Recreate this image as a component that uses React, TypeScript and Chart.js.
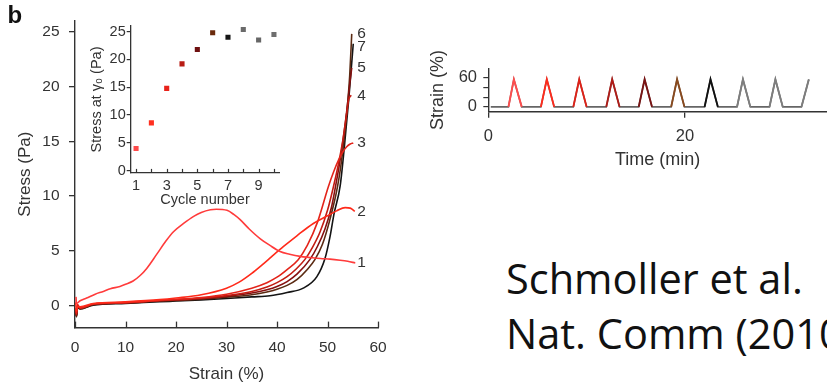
import React, { useEffect, useRef } from 'react';
import { Chart, registerables } from 'chart.js';

Chart.register(...registerables);

const FONT = "'Liberation Sans', Arial, Helvetica, sans-serif";
const INK = '#333333';

// ---------- Main stress–strain chart ----------
const mainXTicks = [0, 10, 20, 30, 40, 50, 60];
const mainYTicks = [0, 5, 10, 15, 20, 25];
const curveNames = ['1', '2', '3', '4', '5', '6', '7'];
const curveColors = ['#ff3b3b', '#ff2a1a', '#e3241a', '#c21c12', '#861010', '#5a2a12', '#141414'];

const curve1X = [0.2, 0.3, 1.0, 2.3, 4, 5.6, 7, 8.9, 10, 11.5, 12.9, 14.2, 16.2, 18, 19.5, 21.5, 23.5, 25, 26.8, 28, 30.1, 31.5, 32.7, 34.5, 36.7, 38.6, 40.6, 42.5, 44.6, 46.5, 48.6, 50.5, 52.5, 54, 55.5];
const curve1Y = [0.8, 0.2, 0.45, 0.7, 1.05, 1.3, 1.55, 1.75, 1.95, 2.25, 2.75, 3.4, 4.7, 5.9, 6.75, 7.5, 8.15, 8.5, 8.75, 8.8, 8.7, 8.3, 7.85, 7.0, 6.1, 5.5, 4.95, 4.7, 4.5, 4.4, 4.3, 4.25, 4.15, 4.05, 3.9];

const curve2X = [0.15, 0.3, 0.5, 1, 3.6, 10, 16.8, 20, 25, 30, 32.5, 35, 37, 39, 41.3, 44, 47.2, 50, 51.8, 53.5, 54.5, 55.4];
const curve2Y = [0.3, -0.5, -0.1, -0.1, 0.2, 0.35, 0.55, 0.7, 1.0, 1.6, 2.15, 2.95, 3.7, 4.5, 5.4, 6.4, 7.5, 8.2, 8.65, 8.95, 8.9, 8.6];

const curve3X = [0.15, 0.3, 0.5, 1, 3.6, 10, 16.8, 20, 25, 30, 35, 38, 40, 42, 44.2, 46, 48, 50.2, 51.2, 52.2, 53, 53.8, 54.5, 55.1];
const curve3Y = [-0.2, -0.7, 0.1, -0.2, 0.15, 0.3, 0.5, 0.58, 0.75, 1.05, 1.6, 2.1, 2.6, 3.3, 4.2, 5.5, 7.6, 10.9, 12.2, 13.3, 14.0, 14.5, 14.75, 14.85];

const curve4X = [0.15, 0.3, 0.5, 1, 3.6, 10, 16.8, 20, 25, 30, 35, 38, 40, 42, 43.8, 45.5, 47, 48.5, 50, 51.2, 52.2, 53, 53.7, 54.2, 54.7];
const curve4Y = [-0.3, -0.8, 0.0, -0.2, 0.15, 0.28, 0.47, 0.54, 0.68, 0.92, 1.3, 1.7, 2.1, 2.65, 3.35, 4.2, 5.3, 6.7, 8.7, 10.9, 13.0, 15.0, 17.2, 18.8, 19.2];

const curve5X = [0.15, 0.3, 0.5, 1, 3.6, 10, 16.8, 20, 25, 30, 35, 38, 40, 42, 44, 46.5, 48, 49.5, 50.8, 51.6, 52.4, 53.2, 54, 54.5, 54.8];
const curve5Y = [-0.4, -0.9, 0.0, -0.25, 0.12, 0.26, 0.45, 0.52, 0.64, 0.85, 1.15, 1.45, 1.75, 2.2, 2.9, 4.2, 5.4, 7.0, 9.0, 10.9, 13.0, 15.5, 18.5, 20.6, 21.7];

const curve6X = [0.15, 0.3, 0.5, 1, 3.6, 10, 16.8, 20, 25, 30, 35, 38, 40, 42, 44, 46, 47.5, 49, 50.5, 52, 53, 53.8, 54.4, 54.8];
const curve6Y = [-0.4, -1.0, -0.1, -0.3, 0.1, 0.24, 0.42, 0.48, 0.6, 0.78, 1.0, 1.25, 1.5, 1.85, 2.4, 3.3, 4.2, 5.6, 7.9, 10.9, 14.0, 17.5, 21.0, 24.8];

const curve7X = [0.15, 0.3, 0.5, 1, 3.6, 10, 16.8, 20, 25, 30, 35, 38.6, 42, 45.2, 47.9, 49.5, 50.5, 51.3, 52.5, 53.3, 54.2, 55.1];
const curve7Y = [-0.5, -1.0, -0.2, -0.3, 0.05, 0.2, 0.36, 0.42, 0.52, 0.66, 0.8, 0.9, 1.2, 1.6, 2.65, 4.3, 6.3, 8.4, 10.9, 14.3, 18.8, 23.9];

const curveXs = [curve1X, curve2X, curve3X, curve4X, curve5X, curve6X, curve7X];
const curveYs = [curve1Y, curve2Y, curve3Y, curve4Y, curve5Y, curve6Y, curve7Y];

// ---------- Inset: stress at gamma0 vs cycle ----------
const cycleNumbers = [1, 2, 3, 4, 5, 6, 7, 8, 9, 10];
const stressAtGamma0 = [4.0, 8.6, 14.8, 19.2, 21.8, 24.8, 24.0, 25.4, 23.5, 24.5];
const cycleColors = ['#ff4a4a', '#ff3020', '#e8221a', '#b81c14', '#6e1010', '#6a2a0c', '#151515', '#6a6a6a', '#666666', '#6e6e6e'];
const insetXTicks = [1, 2, 3, 4, 5, 6, 7, 8, 9, 10];
const insetYTicks = [0, 5, 10, 15, 20, 25];

// ---------- Strain vs time protocol ----------
const baselineStart = 0.25;
const pulseStart = [2.05, 5.35, 8.65, 12.0, 15.3, 18.6, 22.0, 25.3, 28.6, 31.85];
const pulsePeak = [2.6, 5.95, 9.25, 12.6, 15.9, 19.2, 22.6, 25.9, 29.2, 32.6];
const pulseEnd = [3.4, 6.7, 10.0, 13.35, 16.65, 19.95, 23.35, 26.65, 29.95, null];
const pulseAmplitude = [57, 57, 57, 57, 57, 57, 57, 57, 57, 57];
const pulseColors = ['#ff4d4d', '#ff2b1c', '#e02218', '#b01c18', '#7a1414', '#8a4a1e', '#111111', '#7e7e7e', '#7e7e7e', '#7e7e7e'];
const strainXTicks = [0, 20];
const strainYTicks = [0, 20, 40, 60];
const strainYLabelled = [0, 60];

// ---------- plugins ----------
const inwardTicks = {
  id: 'inwardTicks',
  afterDraw(chart: any, _args: any, opts: any) {
    if (!opts || !opts.length) return;
    const s = chart.scales.x;
    const ctx = chart.ctx;
    const bottom = chart.chartArea.bottom;
    ctx.save();
    ctx.strokeStyle = opts.color || INK;
    ctx.lineWidth = opts.width || 1.2;
    s.ticks.forEach((t: any) => {
      const px = Math.round(s.getPixelForValue(t.value)) + 0.5;
      ctx.beginPath();
      ctx.moveTo(px, bottom);
      ctx.lineTo(px, bottom - opts.length);
      ctx.stroke();
    });
    ctx.restore();
  },
};

const curveLabels = {
  id: 'curveLabels',
  afterDatasetsDraw(chart: any, _args: any, opts: any) {
    if (!opts || opts.xValue === undefined) return;
    const ctx = chart.ctx;
    const xs = chart.scales.x;
    const ys = chart.scales.y;
    const items = chart.data.datasets.map((ds: any) => {
      const last = ds.data[ds.data.length - 1];
      return { text: ds.label, y: ys.getPixelForValue(last.y) };
    });
    items.sort((a: any, b: any) => a.y - b.y);
    for (let i = 1; i < items.length; i++) {
      if (items[i].y - items[i - 1].y < opts.minGap) items[i].y = items[i - 1].y + opts.minGap;
    }
    ctx.save();
    ctx.font = `${opts.size}px ${FONT}`;
    ctx.fillStyle = INK;
    ctx.textAlign = 'left';
    ctx.textBaseline = 'middle';
    const x = xs.getPixelForValue(opts.xValue);
    items.forEach((it: any) => ctx.fillText(it.text, x, it.y));
    ctx.restore();
  },
};

function setTicks(values: number[]) {
  return (s: any) => {
    s.ticks = values.map((v) => ({ value: v }));
  };
}

function useChart(ref: React.RefObject<HTMLCanvasElement>, makeConfig: () => any) {
  useEffect(() => {
    if (!ref.current) return;
    const chart = new Chart(ref.current, makeConfig());
    return () => chart.destroy();
  }, []);
}

function mainConfig() {
  return {
    type: 'line',
    data: {
      datasets: curveXs.map((xs, i) => ({
        label: curveNames[i],
        data: xs.map((x, j) => ({ x, y: curveYs[i][j] })),
        borderColor: curveColors[i],
        borderWidth: 1.6,
        pointRadius: 0,
        cubicInterpolationMode: 'monotone',
        fill: false,
      })),
    },
    plugins: [inwardTicks, curveLabels],
    options: {
      animation: false,
      responsive: false,
      maintainAspectRatio: false,
      events: [],
      layout: { padding: { left: 0, top: 20.7, right: 22, bottom: 0 } },
      plugins: {
        legend: { display: false },
        tooltip: { enabled: false },
        inwardTicks: { length: 6, color: INK, width: 1.3 },
        curveLabels: { xValue: 55.9, minGap: 13, size: 15.5 },
      },
      scales: {
        x: {
          type: 'linear',
          min: 0,
          max: 60,
          afterBuildTicks: setTicks(mainXTicks),
          afterFit: (s: any) => { s.height = 390 - 327.6; },
          grid: { display: true, drawOnChartArea: false, drawTicks: false },
          border: { color: INK, width: 1.4 },
          ticks: { font: { size: 15.5, family: FONT }, color: INK, padding: 10.4, maxRotation: 0, autoSkip: false },
          title: { display: true, text: 'Strain (%)', font: { size: 17, family: FONT }, color: INK, padding: { top: 0, bottom: 5.8 } },
        },
        y: {
          type: 'linear',
          min: -2,
          max: 26,
          afterBuildTicks: setTicks(mainYTicks),
          afterFit: (s: any) => { s.width = 75; },
          grid: { display: true, drawOnChartArea: false, drawTicks: true, tickLength: 6, color: INK, lineWidth: 1.3 },
          border: { color: INK, width: 1.4 },
          ticks: { font: { size: 15.5, family: FONT }, color: INK, padding: 9.5, autoSkip: false },
          title: { display: true, text: 'Stress (Pa)', font: { size: 17, family: FONT }, color: INK, padding: { top: 14.8, bottom: 0 } },
        },
      },
    },
  };
}

function insetConfig() {
  return {
    type: 'scatter',
    data: {
      datasets: [
        {
          label: 'Stress at γ0',
          data: cycleNumbers.map((c, i) => ({ x: c, y: stressAtGamma0[i] })),
          pointStyle: 'rect',
          pointRadius: 3.6,
          pointBorderWidth: 0,
          pointBackgroundColor: cycleColors,
          backgroundColor: cycleColors,
          showLine: false,
        },
      ],
    },
    plugins: [inwardTicks],
    options: {
      animation: false,
      responsive: false,
      maintainAspectRatio: false,
      events: [],
      layout: { padding: { left: 0, top: 26.1, right: 10.7, bottom: 0 } },
      plugins: {
        legend: { display: false },
        tooltip: { enabled: false },
        inwardTicks: { length: 4, color: INK, width: 1.2 },
      },
      scales: {
        x: {
          type: 'linear',
          min: 0.65,
          max: 10.35,
          afterBuildTicks: setTicks(insetXTicks),
          afterFit: (s: any) => { s.height = 215 - 172.9; },
          grid: { display: true, drawOnChartArea: false, drawTicks: false },
          border: { color: INK, width: 1.3 },
          ticks: {
            font: { size: 14.5, family: FONT },
            color: INK,
            padding: 4.4,
            maxRotation: 0,
            autoSkip: false,
            callback: (v: any) => (Number(v) % 2 === 1 ? String(v) : ''),
          },
          title: { display: true, text: 'Cycle number', font: { size: 14.5, family: FONT }, color: INK, padding: { top: 0, bottom: 6.3 } },
        },
        y: {
          type: 'linear',
          min: -0.4,
          max: 26,
          afterBuildTicks: setTicks(insetYTicks),
          afterFit: (s: any) => { s.width = 50.7; },
          grid: { display: true, drawOnChartArea: false, drawTicks: true, tickLength: 4, color: INK, lineWidth: 1.2 },
          border: { color: INK, width: 1.3 },
          ticks: { font: { size: 14.5, family: FONT }, color: INK, padding: 1, autoSkip: false },
          title: { display: true, text: 'Stress at γ₀ (Pa)', font: { size: 14.5, family: FONT }, color: INK, padding: { top: 8.3, bottom: 0 } },
        },
      },
    },
  };
}

function strainConfig() {
  const baseline: { x: number; y: number }[] = [{ x: baselineStart, y: 0 }];
  pulseStart.forEach((s, i) => {
    baseline.push({ x: s, y: 0 });
    baseline.push({ x: pulsePeak[i], y: pulseAmplitude[i] });
    const e = pulseEnd[i];
    if (e !== null) baseline.push({ x: e, y: 0 });
  });
  const pulses = pulseStart.map((s, i) => {
    const pts = [{ x: s, y: 0 }, { x: pulsePeak[i], y: pulseAmplitude[i] }];
    const e = pulseEnd[i];
    if (e !== null) pts.push({ x: e, y: 0 });
    return {
      label: `cycle ${i + 1}`,
      data: pts,
      borderColor: pulseColors[i],
      borderWidth: 1.9,
      pointRadius: 0,
      tension: 0,
      fill: false,
      order: 0,
    };
  });
  return {
    type: 'line',
    data: {
      datasets: [
        { label: 'protocol', data: baseline, borderColor: '#666666', borderWidth: 1.6, pointRadius: 0, tension: 0, fill: false, order: 1 },
        ...pulses,
      ],
    },
    options: {
      animation: false,
      responsive: false,
      maintainAspectRatio: false,
      events: [],
      layout: { padding: { left: 0, top: 68.3, right: 0, bottom: 0 } },
      plugins: { legend: { display: false }, tooltip: { enabled: false } },
      scales: {
        x: {
          type: 'linear',
          min: 0,
          max: 34.45,
          afterBuildTicks: setTicks(strainXTicks),
          afterFit: (s: any) => { s.height = 180 - 111.7; },
          grid: { display: true, drawOnChartArea: false, drawTicks: true, tickLength: 6, color: INK, lineWidth: 1.3 },
          border: { color: INK, width: 1.4 },
          ticks: { font: { size: 16.5, family: FONT }, color: INK, padding: 9.2, maxRotation: 0, autoSkip: false },
          title: { display: true, text: 'Time (min)', font: { size: 18, family: FONT }, color: INK, padding: { top: 0, bottom: 9.2 } },
        },
        y: {
          type: 'linear',
          min: -10,
          max: 80,
          afterBuildTicks: setTicks(strainYTicks),
          afterFit: (s: any) => { s.width = 88.3; },
          grid: { display: true, drawOnChartArea: false, drawTicks: true, tickLength: 5, color: INK, lineWidth: 1.2 },
          border: { color: INK, width: 1.4 },
          ticks: {
            font: { size: 16.5, family: FONT },
            color: INK,
            padding: 6.3,
            autoSkip: false,
            callback: (v: any) => (strainYLabelled.includes(Number(v)) ? String(v) : ''),
          },
          title: { display: true, text: 'Strain (%)', font: { size: 18, family: FONT }, color: INK, padding: { top: 27.2, bottom: 0 } },
        },
      },
    },
  };
}

export default function App() {
  const mainRef = useRef<HTMLCanvasElement>(null);
  const insetRef = useRef<HTMLCanvasElement>(null);
  const strainRef = useRef<HTMLCanvasElement>(null);

  useChart(mainRef, mainConfig);
  useChart(insetRef, insetConfig);
  useChart(strainRef, strainConfig);

  const abs = (left: number, top: number): React.CSSProperties => ({ position: 'absolute', left, top });

  return (
    <div
      style={{
        position: 'fixed',
        left: 0,
        top: 0,
        width: 827,
        height: 385,
        overflow: 'hidden',
        background: '#ffffff',
      }}
    >
      <canvas ref={mainRef} width={400} height={390} style={{ ...abs(0, 0), width: 400, height: 390 }} />
      <canvas ref={insetRef} width={210} height={215} style={{ ...abs(80, 0), width: 210, height: 215 }} />
      <canvas ref={strainRef} width={427} height={180} style={{ ...abs(400, 0), width: 427, height: 180 }} />
      <div
        style={{
          ...abs(7.5, 3),
          fontFamily: FONT,
          fontWeight: 'bold',
          fontSize: 24,
          lineHeight: 1,
          color: '#111',
        }}
      >
        b
      </div>
      <div
        style={{
          ...abs(506, 257.5),
          fontFamily: "'Open Sans', 'Noto Sans', sans-serif",
          fontSize: 41.5,
          color: '#111',
          whiteSpace: 'nowrap',
        }}
      >
        <div style={{ lineHeight: 1 }}>Schmoller et al.</div>
        <div style={{ lineHeight: 1, marginTop: 13.5 }}>Nat. Comm (2010)</div>
      </div>
    </div>
  );
}
